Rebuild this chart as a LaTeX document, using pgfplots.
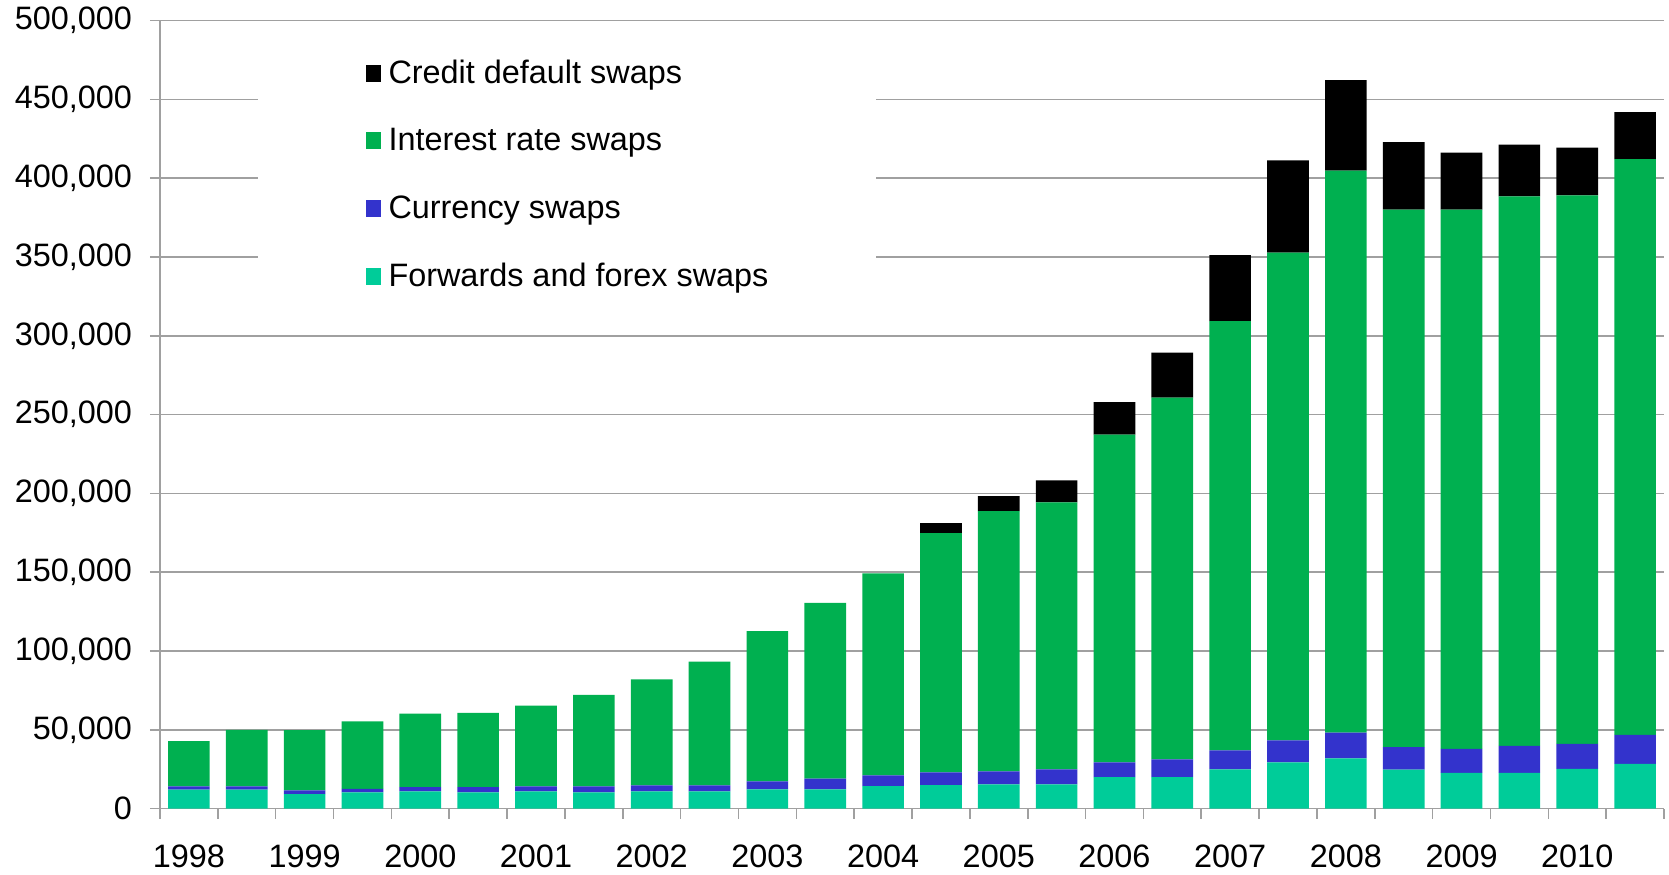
\documentclass[border=0pt]{standalone}
\usepackage{fontspec}
\setmainfont{Liberation Sans}
\usepackage{pgfplots}
\usepackage{pgfplotstable}
\pgfplotsset{compat=1.18}

\definecolor{cds}{RGB}{0,0,0}
\definecolor{irs}{RGB}{0,176,80}
\definecolor{cur}{RGB}{51,51,204}
\definecolor{fwd}{RGB}{0,204,153}
\definecolor{gridc}{RGB}{160,160,160}

% half-year positions 0..25 (1998 H1 ... 2010 H2), values in billions
\pgfplotstableread{
i  fwd   cur   irs    cds
0  12100 2100  28700  0
1  12100 2100  35800  0
2  9200  2500  38100  0
3  10400 2100  42900  0
4  11000 2750  46650  0
5  10400 3350  47050  0
6  11000 3200  51200  0
7  10400 3800  58100  0
8  11000 3800  67300  0
9  11000 3800  78500  0
10 12200 5200  95200  0
11 12200 6900  111500 0
12 14300 6900  128100 0
13 14900 8200  151800 6300
14 15500 8200  165100 9500
15 15500 9500  169300 14000
16 20000 9400  208000 20500
17 20000 11300 229600 28500
18 25000 12000 272400 41900
19 29400 13900 309500 58600
20 31900 16400 356600 57400
21 24800 14300 341000 42800
22 22800 15200 342100 36200
23 22800 17100 348700 32800
24 25300 15900 347900 30300
25 28500 18400 365200 29900
}\swaps

\newcommand{\chartfont}{\fontsize{16.2}{19}\selectfont}

\begin{document}
\begin{tikzpicture}
\begin{axis}[
    name=ax,
    scale only axis,
    width=752pt, height=394pt,
    ybar stacked,
    bar width=0.72,
    xmin=-0.5, xmax=25.5,
    ymin=0, ymax=500000,
    axis x line*=bottom,
    axis y line*=left,
    axis line style={gridc, line width=0.8pt},
    tick style={gridc, line width=0.8pt},
    tick align=outside,
    xtick={0,2,...,24},
    xticklabels={1998,1999,2000,2001,2002,2003,2004,2005,2006,2007,2008,2009,2010},
    major x tick style={draw=none},
    minor xtick={-0.5,0.5,...,25.5},
    minor tick length=5pt,
    ytick={0,50000,...,500000},
    yticklabels={0,{50,000},{100,000},{150,000},{200,000},{250,000},{300,000},{350,000},{400,000},{450,000},{500,000}},
    major tick length=5pt,
    ymajorgrids=true,
    grid style={gridc, line width=0.8pt},
    scaled y ticks=false,
    ticklabel style={font=\chartfont, text=black},
    xticklabel style={yshift=-9.5pt},
    yticklabel style={xshift=-5.5pt},
    legend cell align=left,
    reverse legend,
    legend image code/.code={\fill[#1] (0pt,-4.25pt) rectangle (7.5pt,4.25pt);},
    legend style={
        at={(axis description cs:0.0649,0.973)}, anchor=north west,
        draw=none, fill=white,
        inner xsep=53.75pt, inner ysep=5.5pt,
        row sep=13.8pt, column sep=4pt,
        font=\chartfont,
        nodes={inner sep=0pt, text height=15pt, text depth=5pt},
    },
]
\addplot[fill=fwd, draw=none] table[x=i, y=fwd] {\swaps};
\addplot[fill=cur, draw=none] table[x=i, y=cur] {\swaps};
\addplot[fill=irs, draw=none] table[x=i, y=irs] {\swaps};
\addplot[fill=cds, draw=none] table[x=i, y=cds] {\swaps};
\legend{Forwards and forex swaps, Currency swaps, Interest rate swaps, Credit default swaps}
\end{axis}
\path (ax.south west) +(-80pt,-30.75pt) (ax.north east) +(2.5pt,10.35pt);
\end{tikzpicture}
\end{document}
